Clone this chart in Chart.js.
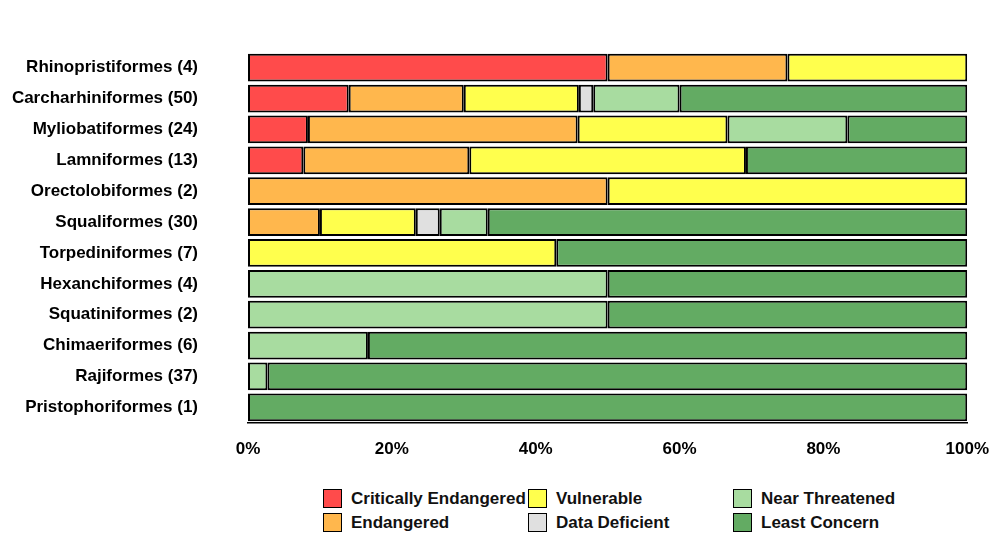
<!DOCTYPE html>
<html><head><meta charset="utf-8">
<script src="https://cdn.jsdelivr.net/npm/chart.js@4"></script>
<style>
body{margin:0;background:#fff;font-family:"Liberation Sans",Arial,sans-serif;}
#wrap{position:absolute;left:0;top:0;width:997px;height:475px;}
#legend{position:absolute;left:323px;top:488px;display:grid;grid-template-columns:205px 205px 200px;row-gap:3px;font-weight:bold;font-size:17px;color:#111;}
.it{display:flex;align-items:center;height:21px;}
.sw{width:19px;height:19px;border:1.5px solid #000;margin-right:9px;box-sizing:border-box;}
</style></head><body>
<div id="wrap"><canvas id="c"></canvas></div>
<div id="legend"></div>
<script>
const categories=["Rhinopristiformes (4)","Carcharhiniformes (50)","Myliobatiformes (24)","Lamniformes (13)","Orectolobiformes (2)","Squaliformes (30)","Torpediniformes (7)","Hexanchiformes (4)","Squatiniformes (2)","Chimaeriformes (6)","Rajiformes (37)","Pristophoriformes (1)"];
const critEndangered=[50,14,8.33,7.69,0,0,0,0,0,0,0,0];
const endangered=[25,16,37.5,23.08,50,10,0,0,0,0,0,0];
const vulnerable=[25,16,20.83,38.46,50,13.33,42.86,0,0,0,0,0];
const dataDeficient=[0,2,0,0,0,3.33,0,0,0,0,0,0];
const nearThreatened=[0,12,16.67,0,0,6.67,0,50,50,16.67,2.7,0];
const leastConcern=[0,40,16.67,30.77,0,66.67,57.14,50,50,83.33,97.3,100];
const seriesNames=["Critically Endangered","Endangered","Vulnerable","Data Deficient","Near Threatened","Least Concern"];
const colors=["#FF4B4B","#FFB74D","#FFFF4D","#E0E0E0","#A8DCA0","#63AB63"];
const xTicks=["0%","20%","40%","60%","80%","100%"];
const vals=[critEndangered,endangered,vulnerable,dataDeficient,nearThreatened,leastConcern];
new Chart(document.getElementById('c'),{type:'bar',
data:{labels:categories,datasets:vals.map((v,i)=>({label:seriesNames[i],data:v,backgroundColor:colors[i],borderColor:'#000',borderWidth:2,borderSkipped:false,barPercentage:0.9,categoryPercentage:1}))},
options:{indexAxis:'y',responsive:true,maintainAspectRatio:false,animation:false,
layout:{padding:{top:0,right:26,left:0,bottom:0}},
plugins:{legend:{display:false},tooltip:{enabled:false}},
scales:{x:{stacked:true,min:0,max:100,grid:{display:false},border:{color:'#000',width:1.5},
ticks:{stepSize:20,padding:8,color:'#000',font:{size:17,weight:'bold',family:'Liberation Sans'},callback:(v,i)=>xTicks[i]}},
y:{stacked:true,grid:{display:false},border:{display:false},afterFit:s=>{s.width=248;},ticks:{padding:42,color:'#000',font:{size:17,weight:'bold',family:'Liberation Sans'}}}}}});
const order=[0,2,4,1,3,5];
document.getElementById('legend').innerHTML=order.map(i=>`<div class="it"><span class="sw" style="background:${colors[i]}"></span>${seriesNames[i]}</div>`).join('');
</script></body></html>
